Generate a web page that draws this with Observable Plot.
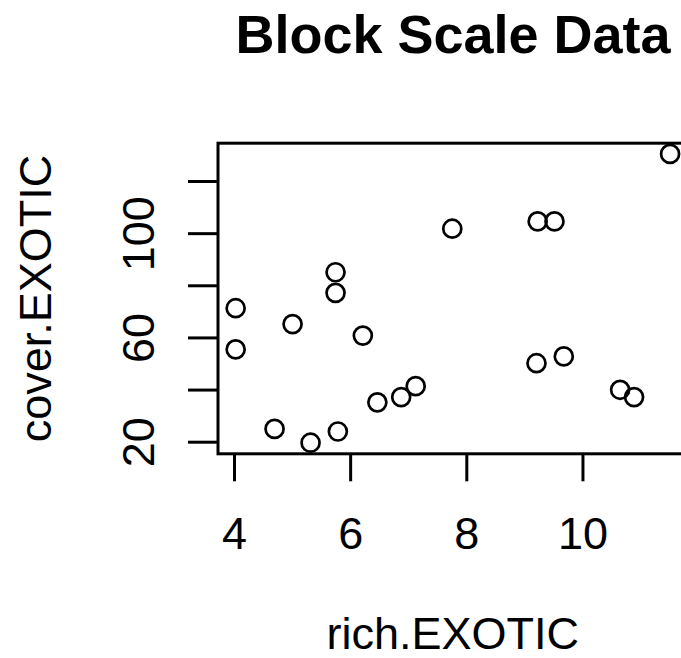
<!DOCTYPE html>
<html>
<head>
<meta charset="utf-8">
<script src="https://cdn.jsdelivr.net/npm/d3@7"></script>
<script src="https://cdn.jsdelivr.net/npm/@observablehq/plot@0.6"></script>
<style>
  html, body { margin: 0; padding: 0; background: #fff; overflow: hidden; }
  #wrap { width: 681px; height: 658px; position: relative; font-family: "Liberation Sans", Arial, sans-serif; }
  #title { position: relative; height: 100px; }
  #title span { position: absolute; left: 453px; top: 7px; transform: translateX(-50%); white-space: nowrap;
    font-size: 54px; font-weight: bold; line-height: 54px; color: #000; }
</style>
</head>
<body>
<div id="wrap">
  <div id="title"><span>Block Scale Data</span></div>
  <div id="chart"></div>
</div>
<script>
// rich.EXOTIC (x) and cover.EXOTIC (y)
const richExotic  = [4.02, 4.02, 4.69, 5.00, 5.31, 5.74, 5.74, 5.78, 6.21, 6.46, 6.87, 7.12, 7.75, 9.22, 9.51, 9.20, 9.67, 10.64, 10.88, 11.50];
const coverExotic = [71.4, 55.6, 25.1, 65.3, 19.8, 85.2, 77.3, 24.1, 60.9, 35.3, 37.3, 41.5, 101.9, 104.7, 104.7, 50.3, 52.9, 40.1, 37.3, 130.6];
const xTicks = [4, 6, 8, 10];
const yTicks = [20, 40, 60, 80, 100, 120];
const yLabels = [20, 60, 100];
const xTitle = "rich.EXOTIC";
const yTitle = "cover.EXOTIC";

const points = richExotic.map((x, i) => ({x, y: coverExotic[i]}));

const chart = Plot.plot({
  width: 681,
  height: 558,
  marginLeft: 217.5,
  marginRight: -6,
  marginTop: 42.7,
  marginBottom: 204.7,
  style: {fontFamily: "'Liberation Sans', Arial, sans-serif", fontSize: "45px", color: "#000", background: "#fff"},
  x: {domain: [3.716, 11.80]},
  y: {domain: [15.55, 134.7]},
  marks: [
    Plot.frame({stroke: "#000", strokeWidth: 3}),
    Plot.axisX({ticks: xTicks, tickSize: 28, tickPadding: 35, strokeWidth: 3, fontSize: 45, label: null}),
    Plot.axisY({ticks: yTicks, tickSize: 29.5, strokeWidth: 3, fill: "none", label: null}),
    Plot.text(yLabels, {y: d => d, text: d => String(d), frameAnchor: "left", dx: -64.5, rotate: -90,
      textAnchor: "middle", lineAnchor: "bottom", fontSize: 45, fill: "#000"}),
    Plot.text([xTitle], {text: d => d, frameAnchor: "bottom", dy: 194.7, textAnchor: "middle",
      lineAnchor: "bottom", fontSize: 45, fill: "#000"}),
    Plot.text([yTitle], {text: d => d, frameAnchor: "left", dx: -167.5, rotate: -90, textAnchor: "middle",
      lineAnchor: "bottom", fontSize: 45, fill: "#000"}),
    Plot.dot(points, {x: "x", y: "y", r: 9, stroke: "#000", strokeWidth: 2.7, fill: "none"})
  ]
});
document.getElementById("chart").appendChild(chart);
</script>
</body>
</html>
